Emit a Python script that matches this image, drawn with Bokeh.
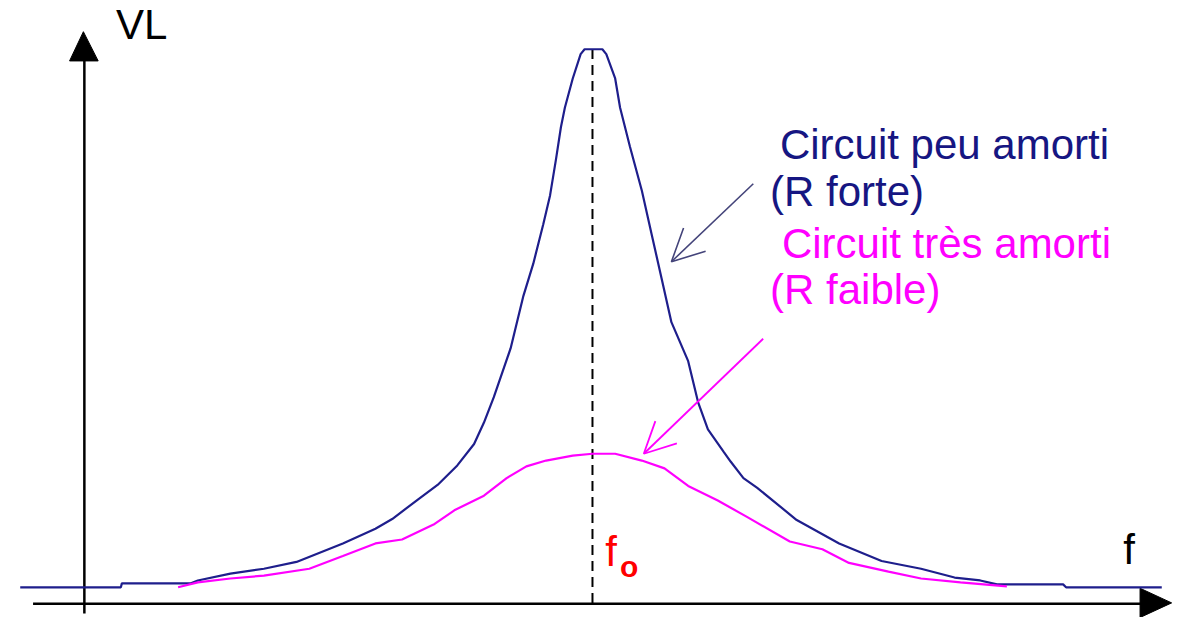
from bokeh.plotting import figure
from bokeh.models import Range1d, Label, Arrow, OpenHead
from bokeh.embed import file_html
from bokeh.resources import INLINE

# ---- data (arbitrary units: frequency f, voltage VL above baseline) ----
f0 = 600
blue_f = [20, 122, 123, 193, 200, 233, 267, 300, 347, 380, 397, 423, 443, 463, 480, 490, 500, 517, 530, 540,
          550, 557, 563, 568, 572, 580, 588, 592, 610, 614, 623, 628, 638, 650, 660, 670, 680, 697, 707, 717,
          733, 740, 753, 767, 807, 850, 893, 933, 967, 993, 1010, 1077, 1080, 1177]
blue_vl = [0, 0, 4, 4, 7, 14, 19, 26, 45, 60, 70, 90, 105, 125, 147, 169, 195, 245, 299, 332,
           372, 402, 439, 472, 492, 522, 547, 552, 552, 547, 522, 492, 452, 407, 362, 317, 272, 232, 190, 162,
           139, 129, 112, 102, 69, 45, 27, 19, 10, 7, 3, 3, 0, 0]
mag_f = [180, 200, 233, 267, 313, 347, 380, 407, 440, 460, 490, 513, 533, 553, 580, 600, 623, 650, 673, 697,
         727, 757, 800, 833, 860, 900, 933, 973, 1020]
mag_vl = [0, 5, 9, 12, 19, 32, 45, 49, 65, 79, 94, 112, 124, 130, 135, 137, 137, 130, 122, 104,
          89, 72, 47, 39, 25, 16, 9, 5, 1]

labels_blue = ["Circuit peu amorti", "(R forte)"]
labels_mag = ["Circuit très amorti", "(R faible)"]

NAVY = "#1e1e8c"
TEXT_NAVY = "#161682"
MAG = "#ff00ff"
FONT = "Liberation Sans"

p = figure(width=1181, height=617, output_backend="svg", toolbar_location=None,
           x_axis_location=None, y_axis_location=None,
           x_range=Range1d(0, 1197), y_range=Range1d(-31, 602),
           min_border=0, outline_line_color=None)
p.grid.visible = False
p.background_fill_color = "white"

# axes
p.line([85, 85], [-27, 540], line_color="black", line_width=2.5)
p.patch([70, 99, 84], [540, 540, 570], fill_color="black", line_color="black")
p.line([33, 1157], [-17, -17], line_color="black", line_width=2.5)
p.patch([1155, 1155, 1187], [-1, -31, -16], fill_color="black", line_color="black")

# resonance dashed line
p.line([f0, f0], [-16, 557], line_color="black", line_width=2, line_dash="10 6")

# curves
p.line(blue_f, blue_vl, line_color=NAVY, line_width=2.2)
p.line(mag_f, mag_vl, line_color=MAG, line_width=2.2)

# annotation arrows
p.add_layout(Arrow(end=OpenHead(size=32, line_color="#44447a", line_width=1.6),
                   x_start=763, y_start=414, x_end=680, y_end=334,
                   line_color="#44447a", line_width=1.6))
p.add_layout(Arrow(end=OpenHead(size=31, line_color=MAG, line_width=1.8),
                   x_start=773, y_start=255, x_end=652, y_end=137,
                   line_color=MAG, line_width=1.8))

DY = 17
def lab(x, y, t, color, size="42px", style="normal"):
    p.add_layout(Label(x=x, y=y + DY, text=t, text_color=color, text_font=FONT,
                       text_font_size=size, text_font_style=style,
                       text_baseline="alphabetic", text_align="left"))

lab(117, 560, "VL", "black")
lab(1138, 22, "f", "black")
lab(613, 20, "f", "#ff0000")
lab(628, 4, "o", "#ff0000", size="30px", style="bold")
lab(790, 437, labels_blue[0], TEXT_NAVY)
lab(780, 389, labels_blue[1], TEXT_NAVY)
lab(792, 336, labels_mag[0], MAG)
lab(780, 289, labels_mag[1], MAG)

open("out.html", "w").write(file_html(p, INLINE))
